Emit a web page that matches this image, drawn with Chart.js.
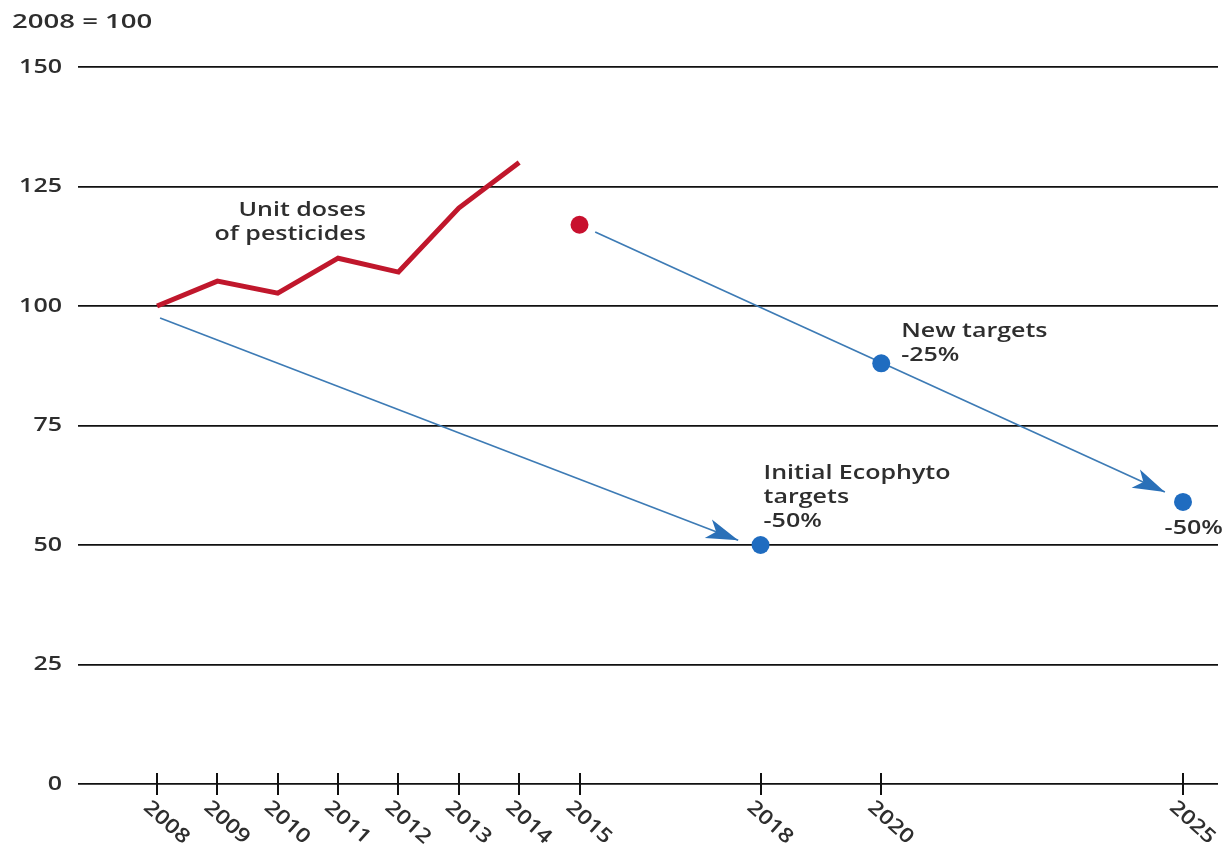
<!DOCTYPE html>
<html>
<head>
<meta charset="utf-8">
<script src="https://cdn.jsdelivr.net/npm/chart.js@4.4.1/dist/chart.umd.min.js"></script>
<style>
  html, body { margin: 0; padding: 0; background: #ffffff; }
  #wrap { width: 1229px; height: 851px; }
</style>
</head>
<body>
<div id="wrap"><canvas id="c" width="1229" height="851"></canvas></div>
<script>
// ---- data ----
const doseYears   = [2008, 2009, 2010, 2011, 2012, 2013, 2014];
const doseValues  = [100, 105.2, 102.7, 110, 107.1, 120.5, 130];
const latestYear  = [2015];
const latestValue = [117];
const targetYears  = [2018, 2020, 2025];
const targetValues = [50, 88, 59];
const arrow1X = [2008.05, 2017.63];
const arrow1Y = [97.5, 51.0];
const arrow2X = [2015.26, 2024.70];
const arrow2Y = [115.5, 61.1];
const xTickYears = [2008, 2009, 2010, 2011, 2012, 2013, 2014, 2015, 2018, 2020, 2025];
const yTickValues = [0, 25, 50, 75, 100, 125, 150];
const baseNote = '2008 = 100';
const labelTexts = [
  { lines: ['Unit doses', 'of pesticides'], x: 2011.46, y: 118.8, align: 'right' },
  { lines: ['New targets', '-25%'], x: 2020.33, y: 93.6, align: 'left' },
  { lines: ['Initial Ecophyto', 'targets', '-50%'], x: 2018.05, y: 63.9, align: 'left' },
  { lines: ['-50%'], x: 2025.66, y: 52.3, align: 'right' }
];

const pts = (xs, ys) => xs.map((x, i) => ({ x: x, y: ys[i] }));

const FONT = '"Open Sans", "Noto Sans", sans-serif';
const TEXT = '#2e2e2e';
const SX = 1.25;

function stretchedText(ctx, str, x, y, align, sx) {
  ctx.save();
  ctx.translate(x, y);
  ctx.scale(sx, 1);
  ctx.textAlign = align;
  ctx.fillText(str, 0, 0);
  ctx.restore();
}

const overlay = {
  id: 'overlay',
  afterDatasetsDraw(chart) {
    const ctx = chart.ctx;
    const xs = chart.scales.x, ys = chart.scales.y;
    [[arrow1X, arrow1Y], [arrow2X, arrow2Y]].forEach(([ax, ay]) => {
      const x0 = xs.getPixelForValue(ax[0]), y0 = ys.getPixelForValue(ay[0]);
      const x1 = xs.getPixelForValue(ax[1]), y1 = ys.getPixelForValue(ay[1]);
      const ang = Math.atan2(y1 - y0, x1 - x0);
      const len = 32, half = 10;
      ctx.save();
      ctx.translate(x1, y1);
      ctx.rotate(ang);
      ctx.beginPath();
      ctx.moveTo(0, 0);
      ctx.lineTo(-len, -half);
      ctx.lineTo(-len * 0.74, 0);
      ctx.lineTo(-len, half);
      ctx.closePath();
      ctx.fillStyle = '#2a70b8';
      ctx.fill();
      ctx.restore();
    });
  },
  afterDraw(chart) {
    const ctx = chart.ctx;
    const xs = chart.scales.x, ys = chart.scales.y;
    const y0 = ys.getPixelForValue(0);
    ctx.save();
    // tick marks
    ctx.strokeStyle = '#111111';
    ctx.lineWidth = 2;
    xTickYears.forEach(v => {
      const px = Math.round(xs.getPixelForValue(v));
      ctx.beginPath();
      ctx.moveTo(px, y0 - 11);
      ctx.lineTo(px, y0 + 11);
      ctx.stroke();
    });
    ctx.fillStyle = TEXT;
    // y labels
    ctx.font = '600 20px ' + FONT;
    ctx.textBaseline = 'middle';
    yTickValues.forEach(v => {
      stretchedText(ctx, String(v), chart.chartArea.left - 16, ys.getPixelForValue(v), 'right', SX);
    });
    // rotated x labels
    ctx.font = '600 20px ' + FONT;
    ctx.textBaseline = 'top';
    xTickYears.forEach(v => {
      const px = xs.getPixelForValue(v);
      ctx.save();
      ctx.translate(px - 4, y0 + 13);
      ctx.rotate(42 * Math.PI / 180);
      ctx.scale(1.18, 1);
      ctx.textAlign = 'left';
      ctx.fillText(String(v), 0, 0);
      ctx.restore();
    });
    // base note
    ctx.font = '600 19px ' + FONT;
    ctx.textBaseline = 'alphabetic';
    stretchedText(ctx, baseNote, 12, 28, 'left', 1.45);
    // annotations
    ctx.font = '600 20px ' + FONT;
    labelTexts.forEach(t => {
      const px = xs.getPixelForValue(t.x);
      const py = ys.getPixelForValue(t.y);
      t.lines.forEach((ln, i) => stretchedText(ctx, ln, px, py + i * 24, t.align, SX));
    });
    ctx.restore();
  }
};

new Chart(document.getElementById('c'), {
  type: 'scatter',
  data: {
    datasets: [
      { data: pts(targetYears, targetValues), pointRadius: 9, pointHoverRadius: 9,
        backgroundColor: '#1f6cc0', borderColor: '#1f6cc0', borderWidth: 0, order: 0 },
      { data: pts(latestYear, latestValue), pointRadius: 9, pointHoverRadius: 9,
        backgroundColor: '#c8102e', borderColor: '#c8102e', borderWidth: 0, order: 1 },
      { data: pts(doseYears, doseValues), showLine: true, pointRadius: 0,
        borderColor: '#c0172c', borderWidth: 5, tension: 0, order: 2,
        borderJoinStyle: 'miter', borderCapStyle: 'butt' },
      { data: pts(arrow1X, arrow1Y), showLine: true, pointRadius: 0,
        borderColor: '#3d7bb5', borderWidth: 1.7, order: 3 },
      { data: pts(arrow2X, arrow2Y), showLine: true, pointRadius: 0,
        borderColor: '#3d7bb5', borderWidth: 1.7, order: 3 }
    ]
  },
  options: {
    responsive: false,
    animation: false,
    devicePixelRatio: 1,
    layout: { padding: { top: 67, right: 11, bottom: 0, left: 0 } },
    plugins: { legend: { display: false }, tooltip: { enabled: false } },
    scales: {
      x: {
        type: 'linear', min: 2006.69, max: 2025.58,
        afterBuildTicks: s => { s.ticks = xTickYears.map(v => ({ value: v })); },
        afterFit: s => { s.height = 67; },
        ticks: { display: false },
        grid: { display: false },
        border: { display: false }
      },
      y: {
        min: 0, max: 150,
        afterBuildTicks: s => { s.ticks = yTickValues.map(v => ({ value: v })); },
        afterFit: s => { s.width = 78; },
        ticks: { display: false },
        grid: { color: '#111111', lineWidth: 1.8, drawTicks: false },
        border: { display: false }
      }
    }
  },
  plugins: [overlay]
});
</script>
</body>
</html>
